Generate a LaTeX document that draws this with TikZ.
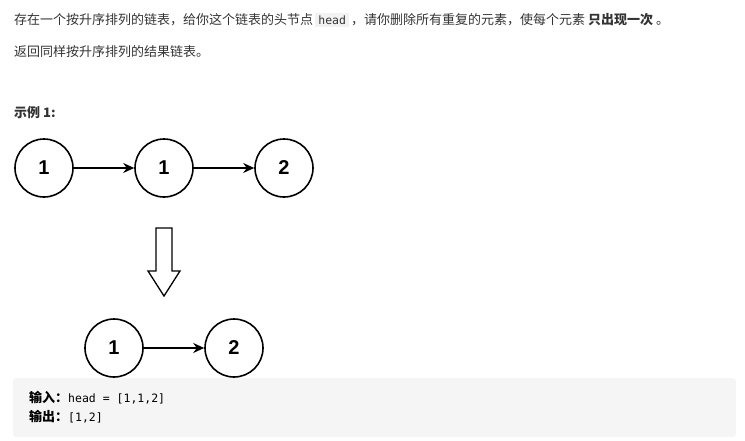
\documentclass[tikz,border=0pt]{standalone}
\usepackage{fontspec}
\usetikzlibrary{arrows.meta}
\setmainfont{Liberation Sans}
\newfontfamily\cjk{Noto Sans CJK SC}
\newfontfamily\cmono{DejaVu Sans Mono}
\begin{document}
\begin{tikzpicture}[x=1pt,y=-1pt,
  ln/.style={circle,draw,line width=1.6pt,minimum size=58pt,inner sep=0pt,font=\fontsize{20}{24}\selectfont\bfseries},
  arr/.style={-{Stealth[length=11pt,width=10pt]},line width=1.4pt},
  txt/.style={anchor=west,inner sep=0pt,font=\cjk\fontsize{13}{16}\selectfont,text=black!80}]
\useasboundingbox (0,0) rectangle (745,440);
\node[txt] (t1) at (14,20) {存在一个按升序排列的链表，给你这个链表的头节点\,\colorbox{black!5}{\cmono\fontsize{11.5}{13}\selectfont head}\,，请你删除所有重复的元素，使每个元素 \textbf{只出现一次} 。};
\node[txt] (t2) at (14,52) {返回同样按升序排列的结果链表。};
\node[txt,font=\cjk\bfseries\fontsize{13}{16}\selectfont] (ex) at (14,113) {示例 1:};
\node[ln] (a) at (44,168) {1};
\node[ln] (b) at (164,168) {1};
\node[ln] (c) at (284,168) {2};
\draw[arr] (a) -- (b);
\draw[arr] (b) -- (c);
\draw[line width=1.3pt,fill=white] (156,228) -- (172,228) -- (172,271) -- (180,271) -- (164,296) -- (148,271) -- (156,271) -- cycle;
\node[ln] (d) at (114,348) {1};
\node[ln] (e) at (234,348) {2};
\draw[arr] (d) -- (e);
\fill[black!4,rounded corners=3pt] (13,378) rectangle (736,437);
\node[txt,text=black] (i1) at (29,398) {\textbf{输入：}\cmono\fontsize{11.5}{13}\selectfont head = [1,1,2]};
\node[txt,text=black] (i2) at (29,417) {\textbf{输出：}\cmono\fontsize{11.5}{13}\selectfont [1,2]};
\end{tikzpicture}
\end{document}
